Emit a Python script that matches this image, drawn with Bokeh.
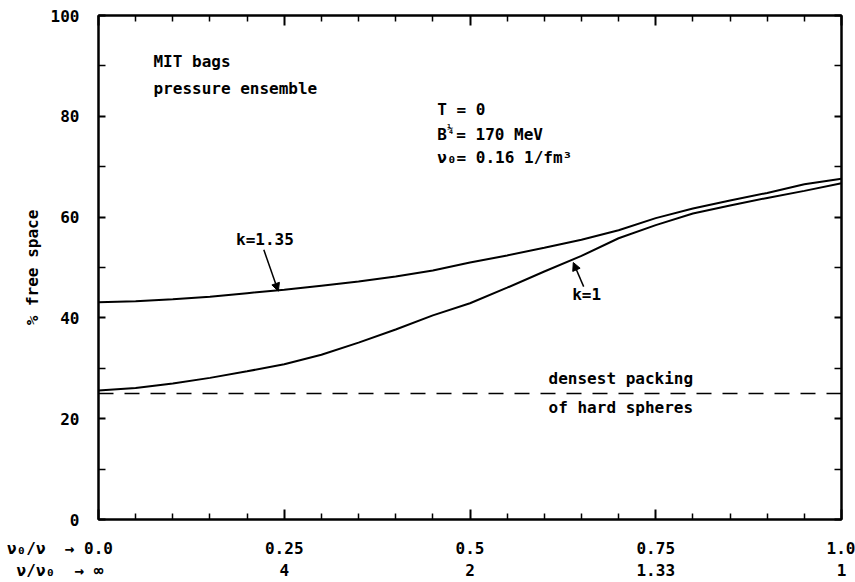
from bokeh.plotting import figure
from bokeh.models import (FixedTicker, LinearAxis, Label, Arrow, NormalHead,
                          Range1d, Span)
from bokeh.embed import file_html
from bokeh.resources import INLINE

# ---------------- data ----------------
x_ratio = [0.00, 0.05, 0.10, 0.15, 0.20, 0.25, 0.30, 0.35, 0.40, 0.45, 0.50,
           0.55, 0.60, 0.65, 0.70, 0.75, 0.80, 0.85, 0.90, 0.95, 1.00]
free_k135 = [43.1, 43.3, 43.7, 44.2, 44.9, 45.6, 46.4, 47.2, 48.2, 49.4, 51.0,
             52.4, 53.9, 55.5, 57.4, 59.8, 61.7, 63.3, 64.8, 66.5, 67.6]
free_k1 = [25.6, 26.1, 27.0, 28.1, 29.4, 30.8, 32.7, 35.1, 37.7, 40.5, 42.9,
           46.0, 49.2, 52.3, 55.8, 58.4, 60.7, 62.3, 63.8, 65.2, 66.7]
densest_packing = 25.0

x_major = [0.0, 0.25, 0.5, 0.75, 1.0]
x_minor = [0.05, 0.10, 0.15, 0.20, 0.30, 0.35, 0.40, 0.45, 0.55, 0.60, 0.65,
           0.70, 0.80, 0.85, 0.90, 0.95]
x_labels_ratio = ["0.0", "0.25", "0.5", "0.75", "1.0"]
x_labels_inverse = ["\u221e", "4", "2", "1.33", "1"]
row_prefix_ratio = "\u03bd\u2080/\u03bd  \u2192 "
row_prefix_inverse = "\u03bd/\u03bd\u2080  \u2192 "
y_major = [0, 20, 40, 60, 80, 100]
y_minor = [10, 30, 50, 70, 90]

# annotation anchors (data units)
arrow_k135 = [0.2225, 53.5, 0.242, 45.3]
arrow_k1 = [0.653, 46.2, 0.639, 51.0]

FONT = "DejaVu Sans Mono"
NB = "\u00a0"


def with_prefix(prefix, first, width):
    # the row caption shares the first tick label; pad symmetrically so that
    # the number itself stays centred on its tick
    pre = prefix.replace(" ", NB)
    return pre + first + NB * (len(pre) + width - len(first))


p = figure(width=855, height=582, x_range=Range1d(0, 1), y_range=Range1d(0, 100),
           output_backend="svg", toolbar_location=None,
           x_axis_location=None, y_axis_location=None,
           min_border_left=98, min_border_right=14, min_border_top=15,
           min_border_bottom=63)
p.grid.visible = False
p.outline_line_color = "black"
p.outline_line_width = 2
p.background_fill_color = "white"
p.border_fill_color = "white"


def style_axis(ax, maj_in, min_in, labels=True):
    ax.axis_line_width = 2
    ax.axis_line_color = "black"
    ax.major_tick_in = maj_in
    ax.major_tick_out = 0
    ax.minor_tick_in = min_in
    ax.minor_tick_out = 0
    ax.major_tick_line_width = 2
    ax.minor_tick_line_width = 1.5
    ax.major_label_text_font = FONT
    ax.major_label_text_font_style = "bold"
    ax.major_label_text_font_size = "16px"
    ax.major_label_text_color = "black"
    if not labels:
        ax.major_label_standoff = 0


row1 = list(x_labels_ratio)
row1[0] = with_prefix(row_prefix_ratio, row1[0], len(row1[0]))
row2 = list(x_labels_inverse)
row2[0] = with_prefix(row_prefix_inverse, row2[0], len(row2[0]))

xb = LinearAxis(ticker=FixedTicker(ticks=x_major, minor_ticks=x_minor),
                major_label_overrides={t: l for t, l in zip(x_major, row1)})
style_axis(xb, 10, 6)
xb.major_label_standoff = 19
p.add_layout(xb, "below")

xb2 = LinearAxis(ticker=FixedTicker(ticks=x_major),
                 major_label_overrides={t: l for t, l in zip(x_major, row2)})
style_axis(xb2, 0, 0)
xb2.axis_line_color = None
xb2.major_tick_line_color = None
xb2.minor_tick_line_color = None
xb2.major_label_standoff = 0
p.add_layout(xb2, "below")

xt = LinearAxis(ticker=FixedTicker(ticks=x_major, minor_ticks=x_minor),
                major_label_overrides={t: "" for t in x_major})
style_axis(xt, 10, 6, labels=False)
p.add_layout(xt, "above")

yl = LinearAxis(ticker=FixedTicker(ticks=y_major, minor_ticks=y_minor),
                axis_label="% free space")
style_axis(yl, 7, 7)
yl.major_label_standoff = 19
yl.axis_label_text_font = FONT
yl.axis_label_text_font_style = "bold"
yl.axis_label_text_font_size = "16px"
yl.axis_label_text_color = "black"
yl.axis_label_standoff = 6
p.add_layout(yl, "left")

yr = LinearAxis(ticker=FixedTicker(ticks=y_major, minor_ticks=y_minor),
                major_label_overrides={t: "" for t in y_major})
style_axis(yr, 7, 7, labels=False)
p.add_layout(yr, "right")

# curves
p.line(x_ratio, free_k135, line_color="black", line_width=2)
p.line(x_ratio, free_k1, line_color="black", line_width=2)
p.add_layout(Span(location=densest_packing, dimension="width", line_color="black",
                  line_width=1.5, line_dash="15 11"))

# arrows
for a in (arrow_k135, arrow_k1):
    p.add_layout(Arrow(x_start=a[0], y_start=a[1], x_end=a[2], y_end=a[3],
                       line_color="black", line_width=1.5,
                       end=NormalHead(size=8, fill_color="black", line_color="black")))


def lab(x, y, text, align="left", size="16px", **kw):
    p.add_layout(Label(x=x, y=y, text=text, text_align=align, text_baseline="middle",
                       text_font=FONT, text_font_style="bold", text_font_size=size,
                       text_color="black", **kw))


lab(0.074, 90.9, "MIT bags")
lab(0.074, 85.5, "pressure ensemble")
lab(0.456, 81.3, "T = 0")
lab(0.456, 76.3, "B")
lab(0.456, 76.3, "\u00bc", size="10px", x_offset=10, y_offset=6)
lab(0.456, 76.3, "= 170 MeV", x_offset=19)
lab(0.456, 71.8, "\u03bd\u2080= 0.16 1/fm\u00b3")
lab(0.224, 55.6, "k=1.35", align="center")
lab(0.657, 44.6, "k=1", align="center")
lab(0.703, 28.0, "densest packing", align="center")
lab(0.703, 22.3, "of hard spheres", align="center")

open("out.html", "w").write(file_html(p, INLINE))
